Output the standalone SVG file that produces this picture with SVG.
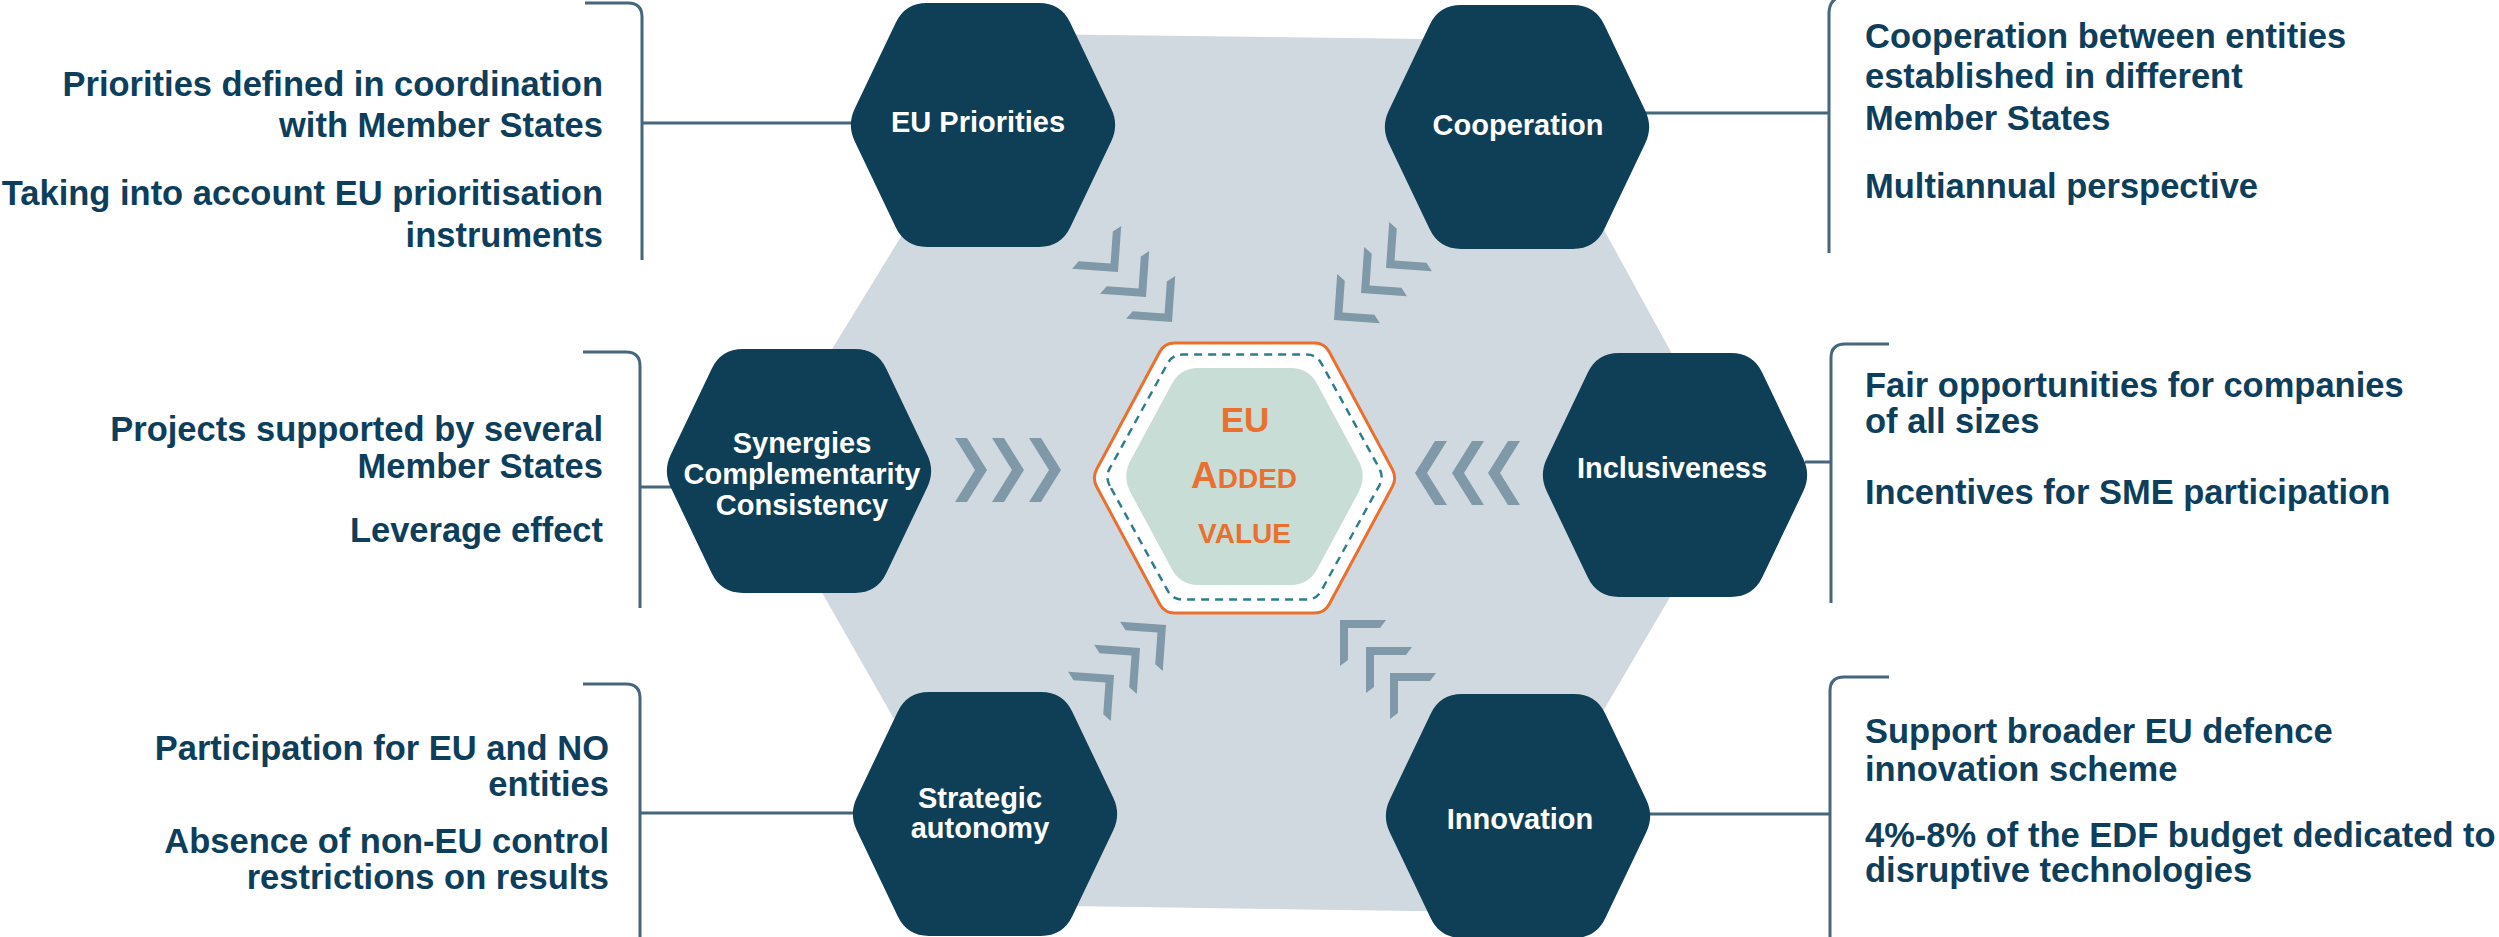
<svg xmlns="http://www.w3.org/2000/svg" width="2499" height="937" viewBox="0 0 2499 937">
<style>
.hex{fill:#0F3F57}
.lbl{font-family:"Liberation Sans",Arial,sans-serif;font-weight:bold;font-size:29px;fill:#FFFFFF;text-anchor:middle}
.note{font-family:"Liberation Sans",Arial,sans-serif;font-weight:bold;font-size:34.5px;fill:#0D3E5B}
.end{text-anchor:end}
.br{fill:none;stroke:#46667C;stroke-width:3}
.chev{fill:#7F99A8}
.ctr{font-family:"Liberation Sans",Arial,sans-serif;font-weight:bold;fill:#EA7030;text-anchor:middle}
</style>
<defs>
<path id="hx" d="M-128.3,16.3 Q-136,0 -128.3,-16.3 L-87.4,-102.1 Q-78,-122 -56,-122 L56,-122 Q78,-122 87.4,-102.1 L128.3,-16.3 Q136,0 128.3,16.3 L87.4,102.1 Q78,122 56,122 L-56,122 Q-78,122 -87.4,102.1 Z"/>
<path id="chh" d="M-32,-32 L-20,-32 L0,0 L-20,32 L-32,32 L-12,0 Z"/>
<path id="chl" d="M0,0 L0,-46 L-8,-40 L-8,-8 L-40,-8 L-46,0 Z"/>
</defs>
<rect width="2499" height="937" fill="#FFFFFF"/>
<polygon id="background" points="1025,34 1500,40 1740,478 1485,912 1000,905 755,475" fill="#D0D9DF"/>

<g id="connectors">
  <path class="br" d="M585,3 L628,3 Q642,3 642,17 L642,260"/>
  <path class="br" d="M642,123 L852,123"/>
  <path class="br" d="M583,352 L626,352 Q640,352 640,366 L640,608"/>
  <path class="br" d="M640,487 L672,487"/>
  <path class="br" d="M583,684 L626,684 Q640,684 640,698 L640,940"/>
  <path class="br" d="M640,813 L853,813"/>
  <path class="br" d="M1829,253 L1829,12 Q1830,-3 1845,-4 L1890,-4"/>
  <path class="br" d="M1645,113 L1829,113"/>
  <path class="br" d="M1889,344 L1845,344 Q1831,344 1831,358 L1831,603"/>
  <path class="br" d="M1805,462 L1831,462"/>
  <path class="br" d="M1889,677 L1844,677 Q1830,677 1830,691 L1830,940"/>
  <path class="br" d="M1650,814 L1830,814"/>
  <g id="chevrons" class="chev">
    <use href="#chh" transform="translate(987,470)"/>
    <use href="#chh" transform="translate(1024,470)"/>
    <use href="#chh" transform="translate(1061,470)"/>
    <use href="#chh" transform="translate(1415,473) rotate(180)"/>
    <use href="#chh" transform="translate(1452,473) rotate(180)"/>
    <use href="#chh" transform="translate(1488,473) rotate(180)"/>
    <use href="#chl" transform="translate(1118,272) rotate(4)"/>
    <use href="#chl" transform="translate(1146,297) rotate(4)"/>
    <use href="#chl" transform="translate(1172,322) rotate(4)"/>
    <use href="#chl" transform="translate(1386,268) rotate(94)"/>
    <use href="#chl" transform="translate(1361,293) rotate(94)"/>
    <use href="#chl" transform="translate(1334,320) rotate(94)"/>
    <use href="#chl" transform="translate(1166,625) rotate(-86)"/>
    <use href="#chl" transform="translate(1140,648) rotate(-86)"/>
    <use href="#chl" transform="translate(1114,675) rotate(-86)"/>
    <use href="#chl" transform="translate(1340,620) rotate(180)"/>
    <use href="#chl" transform="translate(1366,647) rotate(180)"/>
    <use href="#chl" transform="translate(1390,673) rotate(180)"/>
  </g>
</g>

<g id="node-eu-added-value">
  <path d="M1096.7,486.8 Q1092,478 1096.7,469.2 L1159.8,351.8 Q1164.5,343 1174.5,343 L1314.5,343 Q1324.5,343 1329.2,351.8 L1392.3,469.2 Q1397,478 1392.3,486.8 L1329.2,604.2 Q1324.5,613 1314.5,613 L1174.5,613 Q1164.5,613 1159.8,604.2 Z" fill="#FFFFFF" stroke="#EA7030" stroke-width="3"/>
  <path d="M1109.8,485.8 Q1105,477 1109.8,468.2 L1167.7,363.3 Q1172.5,354.5 1182.5,354.5 L1306.5,354.5 Q1316.5,354.5 1321.3,363.3 L1379.2,468.2 Q1384,477 1379.2,485.8 L1321.3,590.7 Q1316.5,599.5 1306.5,599.5 L1182.5,599.5 Q1172.5,599.5 1167.7,590.7 Z" fill="none" stroke="#2F7D8B" stroke-width="2.5" stroke-dasharray="8 6"/>
  <path d="M1130.5,492.4 Q1122,476.5 1130.5,460.6 L1171.8,383.9 Q1180.3,368 1198.3,368 L1290.7,368 Q1308.7,368 1317.2,383.9 L1358.5,460.6 Q1367,476.5 1358.5,492.4 L1317.2,569.1 Q1308.7,585 1290.7,585 L1198.3,585 Q1180.3,585 1171.8,569.1 Z" fill="#C7DDD5"/>
  <text class="ctr" x="1245" y="432" font-size="35">EU</text>
  <text class="ctr" x="1244" y="488" font-size="28"><tspan font-size="37">A</tspan>DDED</text>
  <text class="ctr" x="1244.5" y="543" font-size="28">VALUE</text>
</g>

<g id="node-eu-priorities">
  <use href="#hx" class="hex" transform="translate(983,125)"/>
  <text class="lbl" x="978" y="132">EU Priorities</text>
</g>
<g id="node-cooperation">
  <use href="#hx" class="hex" transform="translate(1517,127)"/>
  <text class="lbl" x="1518" y="135">Cooperation</text>
</g>
<g id="node-synergies">
  <use href="#hx" class="hex" transform="translate(799,471)"/>
  <text class="lbl" x="802" y="453">Synergies</text>
  <text class="lbl" x="802" y="484">Complementarity</text>
  <text class="lbl" x="802" y="515">Consistency</text>
</g>
<g id="node-inclusiveness">
  <use href="#hx" class="hex" transform="translate(1675,475)"/>
  <text class="lbl" x="1672" y="478">Inclusiveness</text>
</g>
<g id="node-strategic-autonomy">
  <use href="#hx" class="hex" transform="translate(985,814)"/>
  <text class="lbl" x="980" y="808">Strategic</text>
  <text class="lbl" x="980" y="838">autonomy</text>
</g>
<g id="node-innovation">
  <use href="#hx" class="hex" transform="translate(1518,816)"/>
  <text class="lbl" x="1520" y="829">Innovation</text>
</g>

<g id="notes-eu-priorities" class="note end">
  <text x="603" y="96">Priorities defined in coordination</text>
  <text x="603" y="137">with Member States</text>
  <text x="603" y="205">Taking into account EU prioritisation</text>
  <text x="603" y="247">instruments</text>
</g>
<g id="notes-synergies" class="note end">
  <text x="603" y="441">Projects supported by several</text>
  <text x="603" y="478">Member States</text>
  <text x="603" y="542">Leverage effect</text>
</g>
<g id="notes-strategic-autonomy" class="note end">
  <text x="609" y="760">Participation for EU and NO</text>
  <text x="609" y="796">entities</text>
  <text x="609" y="853">Absence of non-EU control</text>
  <text x="609" y="889">restrictions on results</text>
</g>
<g id="notes-cooperation" class="note">
  <text x="1865" y="48">Cooperation between entities</text>
  <text x="1865" y="88">established in different</text>
  <text x="1865" y="130">Member States</text>
  <text x="1865" y="198">Multiannual perspective</text>
</g>
<g id="notes-inclusiveness" class="note">
  <text x="1865" y="397">Fair opportunities for companies</text>
  <text x="1865" y="433">of all sizes</text>
  <text x="1865" y="504">Incentives for SME participation</text>
</g>
<g id="notes-innovation" class="note">
  <text x="1865" y="743">Support broader EU defence</text>
  <text x="1865" y="781">innovation scheme</text>
  <text x="1865" y="847">4%-8% of the EDF budget dedicated to</text>
  <text x="1865" y="882">disruptive technologies</text>
</g>
</svg>
